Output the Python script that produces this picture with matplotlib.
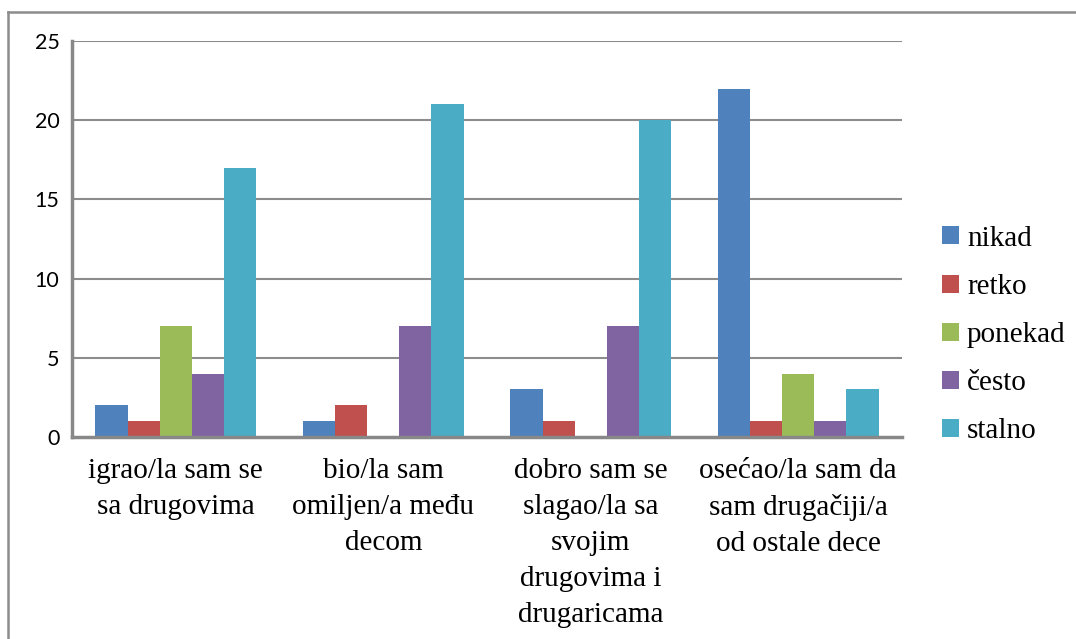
import numpy as np
import matplotlib
matplotlib.use("Agg")
import matplotlib.pyplot as plt
from matplotlib.patches import Patch
from matplotlib.lines import Line2D
from matplotlib.font_manager import FontProperties

categories = [
    "igrao/la sam se\nsa drugovima",
    "bio/la sam\nomiljen/a među\ndecom",
    "dobro sam se\nslagao/la sa\nsvojim\ndrugovima i\ndrugaricama",
    "osećao/la sam da\nsam drugačiji/a\nod ostale dece",
]
series_names = ["nikad", "retko", "ponekad", "često", "stalno"]
nikad = [2, 1, 3, 22]
retko = [1, 2, 1, 1]
ponekad = [7, 0, 0, 4]
cesto = [4, 7, 7, 1]
stalno = [17, 21, 20, 3]
yticks = [0, 5, 10, 15, 20, 25]

series_values = [nikad, retko, ponekad, cesto, stalno]
colors = ["#4F81BD", "#C0504D", "#9BBB59", "#8064A2", "#4BACC6"]

serif_cat = FontProperties(family="Liberation Serif", size=21)
serif_leg = FontProperties(family="Liberation Serif", size=21)
sans_tick = FontProperties(family="Lato", size=15.5)

W, H = 1076, 639
fig = plt.figure(figsize=(W / 100, H / 100), dpi=100)

# plot area in pixel coordinates
left, right, top, bottom = 72, 902, 41, 437
ax = fig.add_axes([left / W, 1 - bottom / H, (right - left) / W, (bottom - top) / H])

n_cat = len(categories)
bar_w = 0.155
x = np.arange(n_cat)
for i, (name, vals) in enumerate(zip(series_names, series_values)):
    offs = (i - 2) * bar_w
    ax.bar(x + offs, vals, width=bar_w, color=colors[i], label=name, zorder=3)

ax.set_xlim(-0.5, n_cat - 0.5)
ax.set_ylim(0, 25)
ax.set_yticks(yticks)
ax.set_yticklabels([str(t) for t in yticks])
for lab in ax.get_yticklabels():
    lab.set_fontproperties(sans_tick)
ax.tick_params(axis="y", length=0, pad=9)
ax.tick_params(axis="x", length=0, pad=15)
ax.set_xticks(x)
ax.set_xticklabels(categories)
for lab in ax.get_xticklabels():
    lab.set_fontproperties(serif_cat)
    lab.set_linespacing(1.5)

for t in yticks[1:]:
    ax.axhline(t, color="#8c8c8c", lw=1.5, zorder=1)

for s in ["top", "right"]:
    ax.spines[s].set_visible(False)
for s in ["left", "bottom"]:
    ax.spines[s].set_color("#888888")
    ax.spines[s].set_linewidth(2.5)
    ax.spines[s].set_zorder(4)

# outer frame of the chart area
fig.add_artist(Line2D([8 / W, 8 / W], [0, 1 - 12 / H], transform=fig.transFigure,
                      color="#8c8c8c", lw=1.8))
fig.add_artist(Line2D([8 / W, 1], [1 - 12 / H, 1 - 12 / H], transform=fig.transFigure,
                      color="#8c8c8c", lw=1.8))

handles = [Patch(facecolor=c, edgecolor="none") for c in colors]
fig.legend(handles, series_names, loc="center left",
           bbox_to_anchor=(916 / W, 1 - 335 / H),
           frameon=False, handlelength=0.57, handleheight=0.57, handletextpad=0.28,
           labelspacing=0.76, prop=serif_leg)

fig.savefig("out.png", dpi=100)
